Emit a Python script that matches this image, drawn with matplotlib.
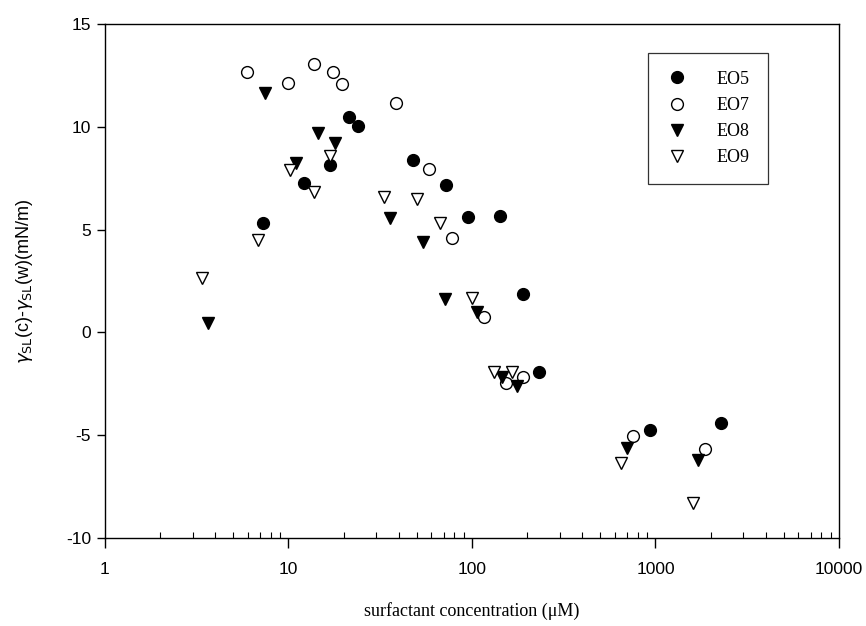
import matplotlib
import matplotlib.pyplot as plt

matplotlib.use("Agg")
plt.rcParams["axes.unicode_minus"] = False

# surfactant concentration (uM) and gamma difference (mN/m)
eo5_x = [7.3, 12.1, 16.8, 21.4, 23.8, 47.9, 72.2, 95.5, 142, 189, 233, 930, 2275]
eo5_y = [5.31, 7.28, 8.14, 10.49, 10.04, 8.39, 7.15, 5.6, 5.66, 1.87, -1.91, -4.75, -4.42]

eo7_x = [5.92, 9.97, 13.8, 17.5, 19.5, 38.5, 58.5, 77.5, 116, 153, 190, 751, 1862]
eo7_y = [12.65, 12.15, 13.04, 12.65, 12.08, 11.17, 7.93, 4.58, 0.73, -2.48, -2.15, -5.04, -5.69]

eo8_x = [3.66, 7.45, 11.0, 14.4, 17.9, 35.7, 53.9, 71.3, 106, 145, 175, 697, 1710]
eo8_y = [0.44, 11.63, 8.25, 9.68, 9.23, 5.55, 4.41, 1.61, 1.01, -2.15, -2.61, -5.64, -6.2]

eo9_x = [3.39, 6.85, 10.2, 13.7, 16.8, 33.1, 50.0, 66.9, 99.6, 132, 165, 649, 1607]
eo9_y = [2.63, 4.49, 7.9, 6.84, 8.58, 6.6, 6.47, 5.34, 1.66, -1.94, -1.91, -6.34, -8.28]

x_ticks = [1, 10, 100, 1000, 10000]
x_tick_labels = ["1", "10", "100", "1000", "10000"]
y_ticks = [-10, -5, 0, 5, 10, 15]

tick_font = ["Liberation Sans Narrow", "Liberation Sans", "DejaVu Sans"]
serif_font = ["Liberation Serif", "DejaVu Serif"]

fig = plt.figure(figsize=(8.66, 6.26), dpi=100)
ax = fig.add_axes([0.1212, 0.1406, 0.8476, 0.8211])

ms = 8.5
ax.plot(eo5_x, eo5_y, "o", ls="none", color="black", ms=ms, label="EO5")
ax.plot(eo7_x, eo7_y, "o", ls="none", mfc="white", mec="black", mew=1.0, ms=ms, label="EO7")
ax.plot(eo8_x, eo8_y, "v", ls="none", color="black", ms=ms, label="EO8")
ax.plot(eo9_x, eo9_y, "v", ls="none", mfc="white", mec="black", mew=1.0, ms=ms, label="EO9")

ax.set_xscale("log")
ax.set_xlim(1, 10000)
ax.set_ylim(-10, 15)
ax.set_xticks(x_ticks)
ax.set_xticklabels(x_tick_labels)
ax.set_yticks(y_ticks)

ax.tick_params(axis="x", which="major", direction="out", length=7, width=1, pad=10)
ax.tick_params(axis="x", which="minor", direction="in", length=4, width=0.8)
ax.tick_params(axis="y", which="major", direction="out", length=6, width=1, pad=4)
for lab in ax.get_xticklabels() + ax.get_yticklabels():
    lab.set_family(tick_font)
    lab.set_fontsize(12.5)

for sp in ax.spines.values():
    sp.set_linewidth(1.0)

ax.set_xlabel("surfactant concentration (\u03bcM)", family=serif_font, fontsize=13, labelpad=18)
ax.set_ylabel(r"$\gamma_{\mathrm{SL}}$(c)-$\gamma_{\mathrm{SL}}$(w)(mN/m)",
              family=tick_font, fontsize=13, labelpad=22)

leg = ax.legend(loc="upper right", bbox_to_anchor=(0.903, 0.944), frameon=True, fancybox=False,
                edgecolor="black", prop={"family": serif_font, "size": 13},
                borderpad=1.0, labelspacing=0.5, handletextpad=1.6, handlelength=1.2,
                borderaxespad=0)
leg.get_frame().set_linewidth(0.9)

fig.savefig("out.png", dpi=100)
